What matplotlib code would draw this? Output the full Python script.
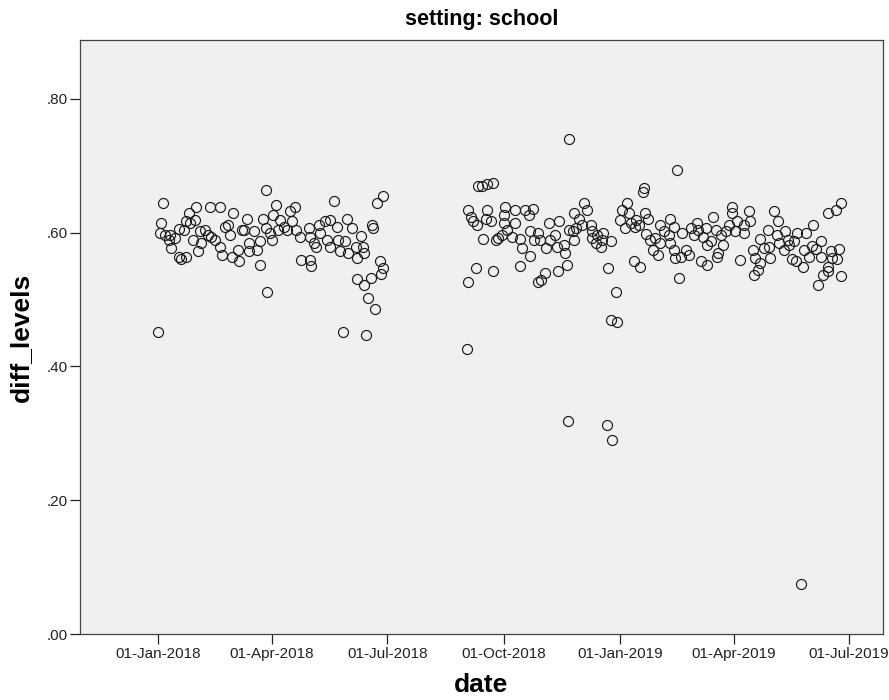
import numpy as np
import pandas as pd
import matplotlib
matplotlib.use('Agg')
import matplotlib.pyplot as plt
import matplotlib.dates as mdates

# days since 01-Jan-2018
day_offset = [
    0, 4, 2, 1, 5, 9, 8, 13, 16, 10, 16, 18, 22, 24, 30, 22, 25, 29, 20, 27,
    31, 34, 33, 37, 39, 42, 41, 49, 45, 49, 50, 53, 55, 57, 59, 58, 63, 64, 66, 70,
    68, 72, 72, 76, 78, 80, 80, 83, 85, 85, 86,
    93, 91, 88, 90, 96, 99, 95, 104, 108, 106, 102, 109, 112, 113, 120, 121, 119, 120, 123,
    127, 128, 125, 132, 136, 133, 136, 139, 141, 142, 144, 148, 149, 150, 153, 156, 157, 160, 162, 163,
    157, 163, 168, 169, 170, 166, 171, 173, 178, 175, 178, 176, 146, 164,
    244, 245, 251, 265, 253, 256, 260, 265, 245, 247, 249, 252, 260, 259, 263, 257, 267, 269, 274, 273,
    273, 276, 272, 282, 282, 280, 286, 288, 294, 286, 290, 293, 296, 294, 300, 297, 302, 300, 303, 306,
    309, 317, 310, 307, 314, 315, 321, 322, 316, 323, 325,
    324, 325, 355, 359,
    410, 329, 333, 337, 339, 335, 330, 328, 329, 342, 343, 343, 347, 346, 350, 352, 351, 358, 356, 362,
    358, 363, 365, 367, 371, 372, 369, 374, 378, 377, 380, 376, 381, 383, 384, 385, 387, 386, 389, 391,
    395, 393, 397, 400, 397, 405, 404, 405, 408, 409, 412, 408,
    414, 413, 417, 420, 421, 424, 426, 427, 431, 433, 429, 434, 434, 437, 439, 441, 442, 443, 445, 447,
    449, 451, 454, 454, 456, 458, 460, 463, 463, 467, 468, 470, 472, 471, 474, 476, 476, 479, 482, 484,
    483, 487, 490, 489, 491, 495, 498, 496,
    499, 503, 505, 501, 504, 510, 512, 518, 511, 515, 517, 520, 524, 524, 522, 526, 530, 530, 532, 533,
    538, 537, 540, 530, 536, 540, 508,
]

diff_levels = [
    .452, .644, .614, .599, .597, .597, .589, .592, .606, .577, .564, .561, .564, .629, .638, .617, .614, .619, .604, .589,
    .572, .584, .602, .604, .597, .594, .639, .639, .589, .579, .567, .609, .612, .597, .629, .564, .574, .557, .604, .621,
    .604, .584, .572, .603, .574, .587, .552, .621, .607, .664, .512,
    .641, .626, .599, .589, .619, .609, .604, .632, .639, .617, .604, .604, .594, .559, .559, .550, .607, .594, .584,
    .612, .599, .579, .617, .619, .589, .579, .647, .609, .589, .572, .587, .621, .569, .607, .579, .562, .595, .579, .569,
    .530, .522, .532, .612, .607, .502, .486, .645, .655, .557, .547, .538, .451, .447,
    .426, .527, .547, .543, .669, .670, .673, .674, .634, .624, .617, .612, .634, .621, .618, .590, .589, .592, .639, .626,
    .614, .604, .597, .614, .634, .594, .590, .577, .565, .550, .634, .626, .636, .602, .600, .589, .589, .527, .529, .540,
    .614, .618, .589, .577, .597, .578, .582, .569, .542, .552, .604,
    .318, .740, .313, .290,
    .693, .629, .621, .644, .634, .612, .607, .602, .589, .612, .602, .592, .597, .584, .579, .599, .589, .587, .547, .512,
    .470, .467, .619, .634, .644, .629, .607, .614, .619, .609, .612, .557, .549, .660, .666, .629, .621, .598, .589, .574,
    .567, .592, .612, .602, .584, .621, .597, .584, .574, .562, .532, .609,
    .599, .564, .574, .567, .607, .597, .615, .604, .594, .607, .557, .552, .582, .587, .623, .604, .564, .569, .597, .582,
    .602, .612, .639, .629, .602, .617, .559, .612, .599, .632, .617, .574, .562, .537, .544, .554, .590, .577, .604, .562,
    .579, .632, .618, .597, .585, .574, .589, .602,
    .582, .587, .599, .560, .557, .548, .600, .612, .574, .564, .580, .575, .587, .564, .522, .537, .549, .542, .572, .562,
    .575, .560, .535, .630, .634, .645, .075,
]

dates = pd.Timestamp('2018-01-01') + pd.to_timedelta(day_offset, unit='D')
tick_dates = pd.to_datetime(['2018-01-01', '2018-04-01', '2018-07-01', '2018-10-01',
                             '2019-01-01', '2019-04-01', '2019-07-01'])
y_ticks = [0.0, 0.2, 0.4, 0.6, 0.8]
y_tick_labels = ['.00', '.20', '.40', '.60', '.80']

plt.rcParams['font.family'] = ['Liberation Sans', 'DejaVu Sans']

fig = plt.figure(figsize=(8.89, 7.0), dpi=100)
ax = fig.add_axes([0.09, 0.094, 0.903, 0.849])
ax.set_facecolor('#f0f0f0')

ax.plot(dates, diff_levels, linestyle='none', marker='o', markersize=7.2,
        markerfacecolor='none', markeredgecolor='#1a1a1a', markeredgewidth=0.85)

ax.set_xlim(pd.Timestamp('2017-10-31'), pd.Timestamp('2019-07-28'))
ax.set_ylim(0, 0.888)
ax.set_xticks(tick_dates)
ax.xaxis.set_major_formatter(mdates.DateFormatter('%d-%b-%Y'))
ax.set_yticks(y_ticks)
ax.set_yticklabels(y_tick_labels)
ax.tick_params(axis='both', direction='out', length=7.5, width=0.9, pad=1.5,
               labelsize=11, colors='#222222')

for s in ax.spines.values():
    s.set_color('#444444')
    s.set_linewidth(0.9)

ax.set_title('setting: school', fontsize=15.5, fontweight='bold', pad=11)
ax.set_xlabel('date', fontsize=19, fontweight='bold', labelpad=9)
ax.set_ylabel('diff_levels', fontsize=19, fontweight='bold', labelpad=10)

fig.savefig('out.png', dpi=100)
